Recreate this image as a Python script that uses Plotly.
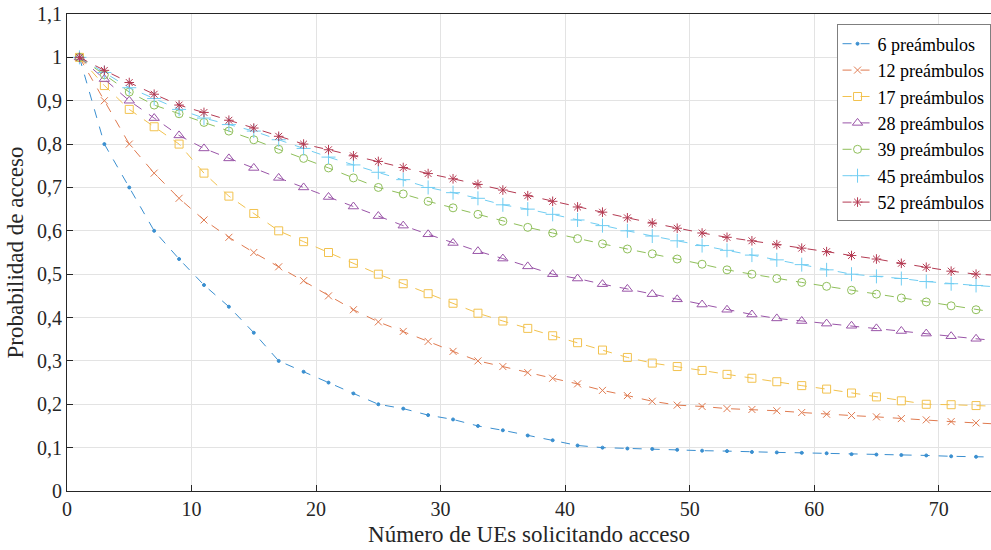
import plotly.graph_objects as go

x_vals = list(range(1, 77, 2))

p6 = [1.0, 0.8, 0.7, 0.6, 0.535, 0.475, 0.425, 0.365, 0.3, 0.275, 0.25, 0.225, 0.2, 0.19, 0.175,
      0.165, 0.15, 0.14, 0.128, 0.117, 0.105, 0.1, 0.098, 0.097, 0.095, 0.093, 0.092, 0.09, 0.089,
      0.088, 0.087, 0.085, 0.084, 0.083, 0.082, 0.08, 0.079, 0.078]
p12 = [1.0, 0.9, 0.8, 0.733, 0.675, 0.625, 0.585, 0.55, 0.517, 0.485, 0.45, 0.418, 0.39, 0.368,
       0.345, 0.322, 0.3, 0.287, 0.273, 0.26, 0.247, 0.232, 0.22, 0.207, 0.198, 0.195, 0.19, 0.188,
       0.185, 0.181, 0.177, 0.174, 0.171, 0.167, 0.164, 0.16, 0.157, 0.154]
p17 = [1.0, 0.935, 0.88, 0.84, 0.8, 0.733, 0.68, 0.64, 0.6, 0.575, 0.55, 0.525, 0.5, 0.478, 0.455,
       0.433, 0.41, 0.392, 0.375, 0.358, 0.342, 0.325, 0.308, 0.295, 0.287, 0.278, 0.269, 0.26,
       0.252, 0.243, 0.235, 0.226, 0.217, 0.208, 0.2, 0.199, 0.197, 0.195]
p28 = [1.0, 0.95, 0.9, 0.86, 0.82, 0.79, 0.767, 0.745, 0.722, 0.7, 0.678, 0.656, 0.634, 0.612,
       0.592, 0.572, 0.553, 0.536, 0.518, 0.5, 0.49, 0.477, 0.466, 0.454, 0.442, 0.43, 0.418, 0.407,
       0.398, 0.392, 0.386, 0.381, 0.375, 0.369, 0.363, 0.357, 0.351, 0.346]
p39 = [1.0, 0.96, 0.92, 0.89, 0.87, 0.85, 0.83, 0.81, 0.788, 0.767, 0.745, 0.722, 0.7, 0.685,
       0.668, 0.653, 0.638, 0.622, 0.608, 0.595, 0.582, 0.57, 0.558, 0.547, 0.535, 0.523, 0.51,
       0.5, 0.49, 0.481, 0.472, 0.463, 0.454, 0.445, 0.436, 0.427, 0.418, 0.41]
p45 = [1.0, 0.965, 0.93, 0.905, 0.88, 0.86, 0.845, 0.83, 0.81, 0.79, 0.77, 0.752, 0.735, 0.718,
       0.7, 0.688, 0.675, 0.66, 0.65, 0.638, 0.625, 0.612, 0.6, 0.588, 0.577, 0.566, 0.555, 0.544,
       0.533, 0.522, 0.51, 0.5, 0.495, 0.49, 0.483, 0.478, 0.474, 0.47]
p52 = [1.0, 0.97, 0.942, 0.915, 0.89, 0.873, 0.855, 0.837, 0.818, 0.8, 0.787, 0.773, 0.76, 0.746,
       0.732, 0.72, 0.707, 0.694, 0.681, 0.668, 0.655, 0.643, 0.63, 0.618, 0.606, 0.595, 0.585,
       0.577, 0.568, 0.56, 0.552, 0.543, 0.535, 0.525, 0.516, 0.507, 0.5, 0.497]

names = ["6 preámbulos", "12 preámbulos", "17 preámbulos", "28 preámbulos",
         "39 preámbulos", "45 preámbulos", "52 preámbulos"]
series = [p6, p12, p17, p28, p39, p45, p52]
colors = ["#3a8fd0", "#e07a4f", "#f2c24e", "#9a55a8", "#8fbf5a", "#70cdf2", "#b43a52"]
symbols = ["circle", "x-thin-open", "square-open", "triangle-up-open", "circle-open",
           "cross-thin-open", "asterisk-open"]
sizes = [3, 7, 8, 9, 8, 10, 8]

fig = go.Figure()
for name, ys, c, s, sz in zip(names, series, colors, symbols, sizes):
    fig.add_trace(go.Scatter(
        x=x_vals, y=ys, name=name, mode="lines+markers",
        line=dict(color=c, width=1, dash="dash"),
        marker=dict(symbol=s, size=sz, color=c, line=dict(color=c, width=1)),
    ))

font_family = "Liberation Serif"
fig.update_layout(
    width=991, height=550,
    margin=dict(l=67, r=0, t=14, b=59),
    paper_bgcolor="white", plot_bgcolor="white",
    separators=",.",
    font=dict(family=font_family, size=20, color="#262626"),
    legend=dict(x=0.9995, y=0.978, xanchor="right", yanchor="top",
                bordercolor="#7f7f7f", borderwidth=1, bgcolor="white",
                font=dict(family=font_family, size=18, color="#000000"), tracegroupgap=0,
                itemwidth=30),
    xaxis=dict(range=[0, 74.2], dtick=10, showgrid=True, gridcolor="#e3e3e3",
               ticks="inside", ticklen=6, tickcolor="#262626",
               tickfont=dict(family=font_family, size=20),
               showline=True, linecolor="#262626", mirror=True, zeroline=False,
               title=dict(text="Número de UEs solicitando acceso",
                          font=dict(family=font_family, size=23), standoff=6)),
    yaxis=dict(range=[0, 1.1], dtick=0.1, showgrid=True, gridcolor="#e3e3e3",
               ticks="inside", ticklen=6, tickcolor="#262626",
               tickfont=dict(family=font_family, size=20),
               showline=True, linecolor="#262626", mirror=True, zeroline=False,
               title=dict(text="Probabilidad de acceso",
                          font=dict(family=font_family, size=23), standoff=6)),
)

fig.write_html("out.html")
